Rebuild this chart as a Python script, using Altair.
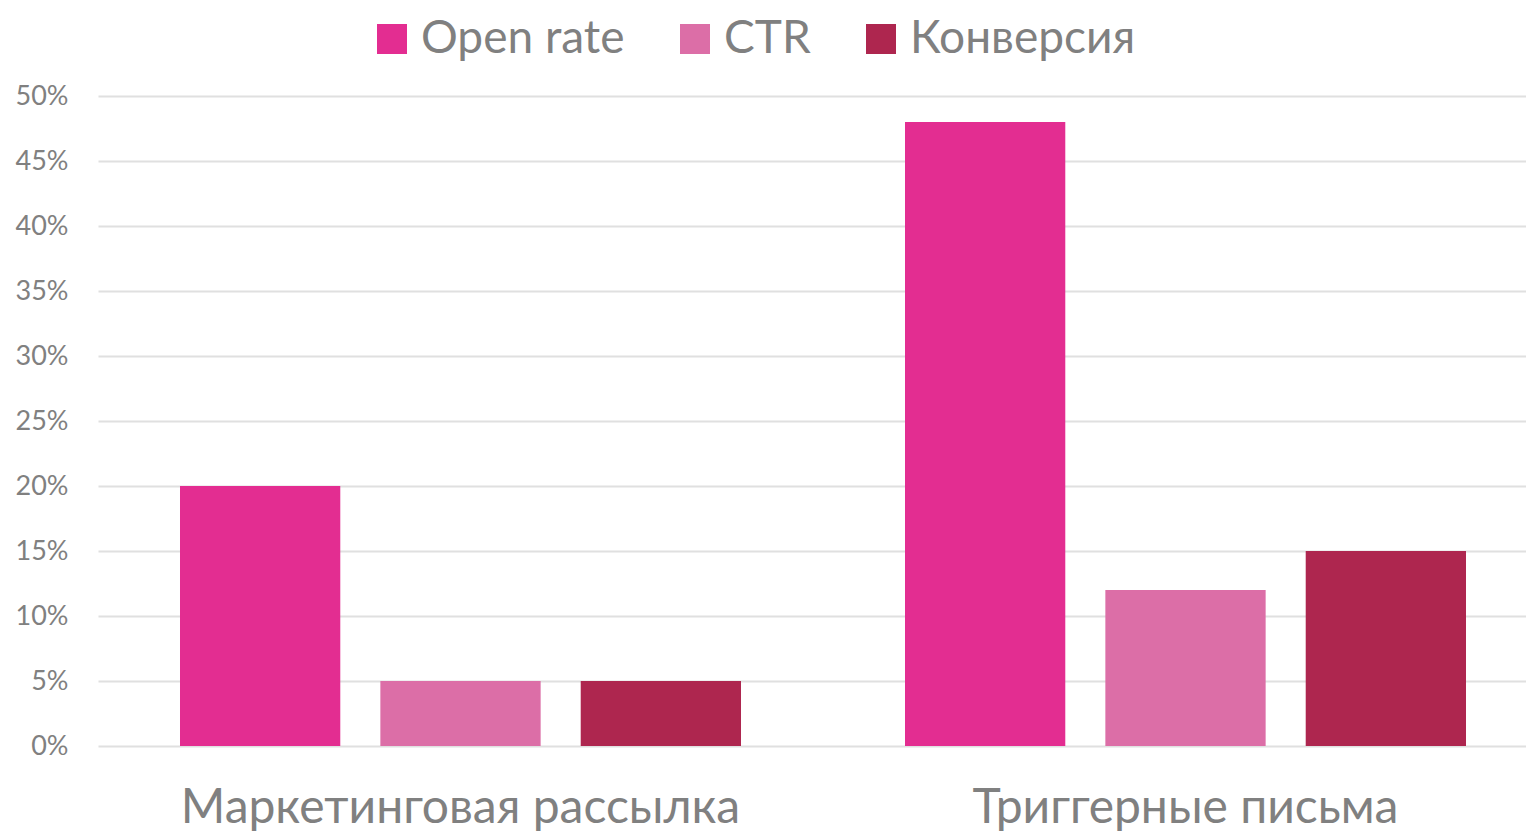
import altair as alt
import pandas as pd

categories = ["Маркетинговая рассылка", "Триггерные письма"]
series = ["Open rate", "CTR", "Конверсия"]
open_rate = [0.20, 0.48]
ctr = [0.05, 0.12]
conversion = [0.05, 0.15]
colors = ["#E32D91", "#DC6EA7", "#AE264F"]
y_ticks = [0, 0.05, 0.10, 0.15, 0.20, 0.25, 0.30, 0.35, 0.40, 0.45, 0.50]

rows = []
for i, c in enumerate(categories):
    for s, vals in zip(series, [open_rate, ctr, conversion]):
        rows.append({"category": c, "series": s, "value": vals[i]})
df = pd.DataFrame(rows)

FONT = "Lato"
GRAY = "#808080"

chart = alt.Chart(df).mark_bar().encode(
    x=alt.X("category:N", sort=categories, title=None,
            scale=alt.Scale(range=[0, 1450], paddingInner=0.2262, paddingOuter=0.1131),
            axis=alt.Axis(labelAngle=0, labelFontSize=48, labelColor=GRAY, labelFont=FONT,
                          labelPadding=38, labelLimit=1000, ticks=False, domain=False,
                          grid=False)),
    xOffset=alt.XOffset("series:N", sort=series,
                        scale=alt.Scale(paddingInner=0.2, paddingOuter=0)),
    y=alt.Y("value:Q", title=None,
            scale=alt.Scale(domain=[0, 0.5], nice=False),
            axis=alt.Axis(values=y_ticks, format=".0%", labelFontSize=27, labelColor=GRAY,
                          labelFont=FONT, labelPadding=30, ticks=False, domain=False,
                          grid=True, gridColor="#E0E0E0", gridWidth=2)),
    color=alt.Color("series:N", sort=series,
                    scale=alt.Scale(domain=series, range=colors),
                    legend=alt.Legend(title=None, orient="none", direction="horizontal",
                                      legendX=271, legendY=-80, symbolType="square",
                                      symbolSize=900, symbolStrokeWidth=0,
                                      labelFontSize=46, labelFont=FONT, labelColor=GRAY,
                                      labelOffset=6, columnPadding=47, padding=0,
                                      labelLimit=500)),
).properties(
    width=1428, height=650,
    autosize=alt.AutoSizeParams(type="none"),
    padding={"left": 90, "top": 88, "right": 0, "bottom": 86},
).configure_view(stroke=None)

chart.save("out.html", embed_options={"renderer": "svg", "actions": False})
